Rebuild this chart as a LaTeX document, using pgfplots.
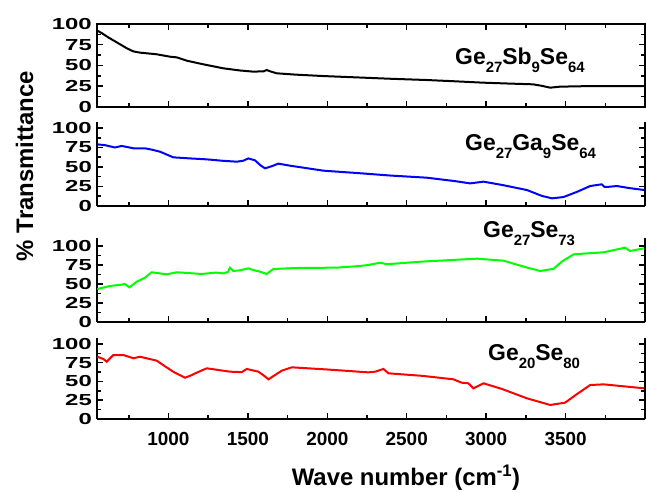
\documentclass[border=0pt]{standalone}
\usepackage{fontspec}
\setmainfont{Liberation Sans}
\usepackage{graphicx}
\usepackage{pgfplots}
\pgfplotsset{compat=1.18}

\newcommand{\sub}[1]{\raisebox{-0.32em}{\fontsize{15}{15}\selectfont #1}}

\pgfplotsset{
  panel/.style={
    scale only axis, width=548bp, anchor=south west,
    xmin=550, xmax=4000, ymin=0,
    xtick={1000,1500,...,3500}, minor xtick={750,1250,...,3750},
    ytick={0,25,50,75,100}, minor ytick={12.5,37.5,62.5,87.5},
    tick align=inside, major tick length=6bp, minor tick length=4bp,
    every tick/.append style={line width=1.5bp, black},
    axis line style={line width=1.5bp},
    /pgf/number format/assume math mode=true,
    /pgf/number format/1000 sep={},
    scaled ticks=false,
    yticklabel={\scalebox{1.5}[1]{\pgfmathprintnumber{\tick}}},
    yticklabel style={font=\fontsize{16}{16}\selectfont\bfseries, inner sep=1bp, xshift=-4bp},
    xticklabel style={font=\fontsize{19}{19}\selectfont\bfseries},
    xticklabels={},
  }
}

\begin{document}
\begin{tikzpicture}
\useasboundingbox (0,0) rectangle (646bp,493bp);

% Panel 1: Ge27Sb9Se64
\begin{axis}[panel, at={(97bp,386bp)}, height=83bp, ymax=100]
\addplot[black, line width=2bp] coordinates {
(552,92) (580,89) (620,84) (660,79.5) (700,75) (740,70.5) (779,67) (820,65.5) (863,64.7) (926,63.5) (1010,60.6) (1052,59.8)
(1115,55.8) (1220,51.4) (1345,46.6) (1450,44) (1534,42.6) (1600,43) (1618,44.6)
(1640,43) (1681,40.6) (1800,39) (1973,37.3) (2206,35.5) (2400,34) (2626,32.5)
(2800,31) (2981,29.3) (3150,28.2) (3296,27.3) (3350,25.5) (3403,23.3) (3466,24.5)
(3600,25) (3800,25) (3995,25.3)
};
\end{axis}

% Panel 2: Ge27Ga9Se64
\begin{axis}[panel, at={(97bp,287bp)}, height=84bp, ymax=107.7, axis x line*=bottom]
\addplot[blue, line width=2bp] coordinates {
(552,79) (600,78) (663,75) (705,77) (779,74) (852,74) (900,72) (947,69.6) (1030,62.4)
(1136,61) (1240,59.8) (1340,58) (1430,56.8) (1470,58) (1503,61) (1545,58.5) (1580,52)
(1608,48.3) (1650,51) (1692,54.3) (1765,51.7) (1975,45.3) (2206,42) (2400,39)
(2626,36.3) (2800,32) (2899,29) (2983,31.2) (3100,27) (3256,20.5) (3350,13) (3414,9.8)
(3487,11.5) (3570,18) (3655,25.6) (3728,27.8) (3745,24.5) (3760,24.4) (3823,25.6)
(3900,23) (3995,20.5)
};
\end{axis}

% Panel 3: Ge27Se73
\begin{axis}[panel, at={(97bp,171bp)}, height=84bp, ymax=110.5, axis x line*=bottom]
\addplot[green, line width=2bp] coordinates {
(552,43.4) (632,47.4) (700,49) (726,50) (754,45.6) (800,53) (850,58) (894,65.4)
(989,62.7) (1052,65.4) (1209,63.2) (1300,65) (1345,64) (1375,66) (1387,71.5)
(1408,67.1) (1450,68) (1503,70.6) (1534,68.4) (1580,66) (1618,63.2) (1660,69.7)
(1800,71) (2059,71.5) (2206,73.7) (2258,75) (2332,78) (2374,76) (2600,79.5)
(2941,83.3) (3108,80.7) (3250,72) (3340,67.1) (3424,70) (3480,80) (3550,89)
(3739,91.7) (3875,97.8) (3906,93.4) (3995,97)
};
\end{axis}

% Panel 4: Ge20Se80
\begin{axis}[panel, at={(97bp,74bp)}, height=81bp, ymax=108, axis x line*=bottom,
  xticklabels={1000,1500,2000,2500,3000,3500},
  xticklabel style={yshift=-10bp}]
\addplot[red, line width=2bp] coordinates {
(552,83) (590,80) (611,76.4) (653,85.3) (716,85.3) (779,81) (821,83) (926,77.8)
(980,70) (1030,63) (1104,55) (1140,58) (1178,61.8) (1241,67.6) (1387,63.1)
(1461,62.5) (1493,66.7) (1566,63.1) (1600,58) (1629,52.9) (1713,64.4) (1776,68.9)
(2000,66) (2258,62.2) (2301,63.1) (2353,66.7) (2385,60.9) (2600,57.5) (2794,52.9)
(2846,48.4) (2888,47.6) (2920,40.9) (2983,47.6) (3100,40) (3256,27.6) (3403,18.7)
(3497,21.8) (3570,33) (3655,45.3) (3739,46.2) (3995,40.9)
};
\end{axis}

% sample labels
\node[anchor=base west, inner sep=0, font=\fontsize{23}{23}\selectfont\bfseries] at (455bp,428bp) {Ge\sub{27}Sb\sub{9}Se\sub{64}};
\node[anchor=base west, inner sep=0, font=\fontsize{23}{23}\selectfont\bfseries] at (465bp,342bp) {Ge\sub{27}Ga\sub{9}Se\sub{64}};
\node[anchor=base west, inner sep=0, font=\fontsize{23}{23}\selectfont\bfseries] at (483bp,255bp) {Ge\sub{27}Se\sub{73}};
\node[anchor=base west, inner sep=0, font=\fontsize{23}{23}\selectfont\bfseries] at (488bp,132bp) {Ge\sub{20}Se\sub{80}};

% axis titles
\node[rotate=90, anchor=base, inner sep=0, font=\fontsize{24}{24}\selectfont\bfseries] at (33bp,327bp) {\% Transmittance};
\node[anchor=base, inner sep=0, font=\fontsize{24}{24}\selectfont\bfseries] at (406bp,8bp) {Wave number (cm\textsuperscript{-1})};
\end{tikzpicture}
\end{document}
